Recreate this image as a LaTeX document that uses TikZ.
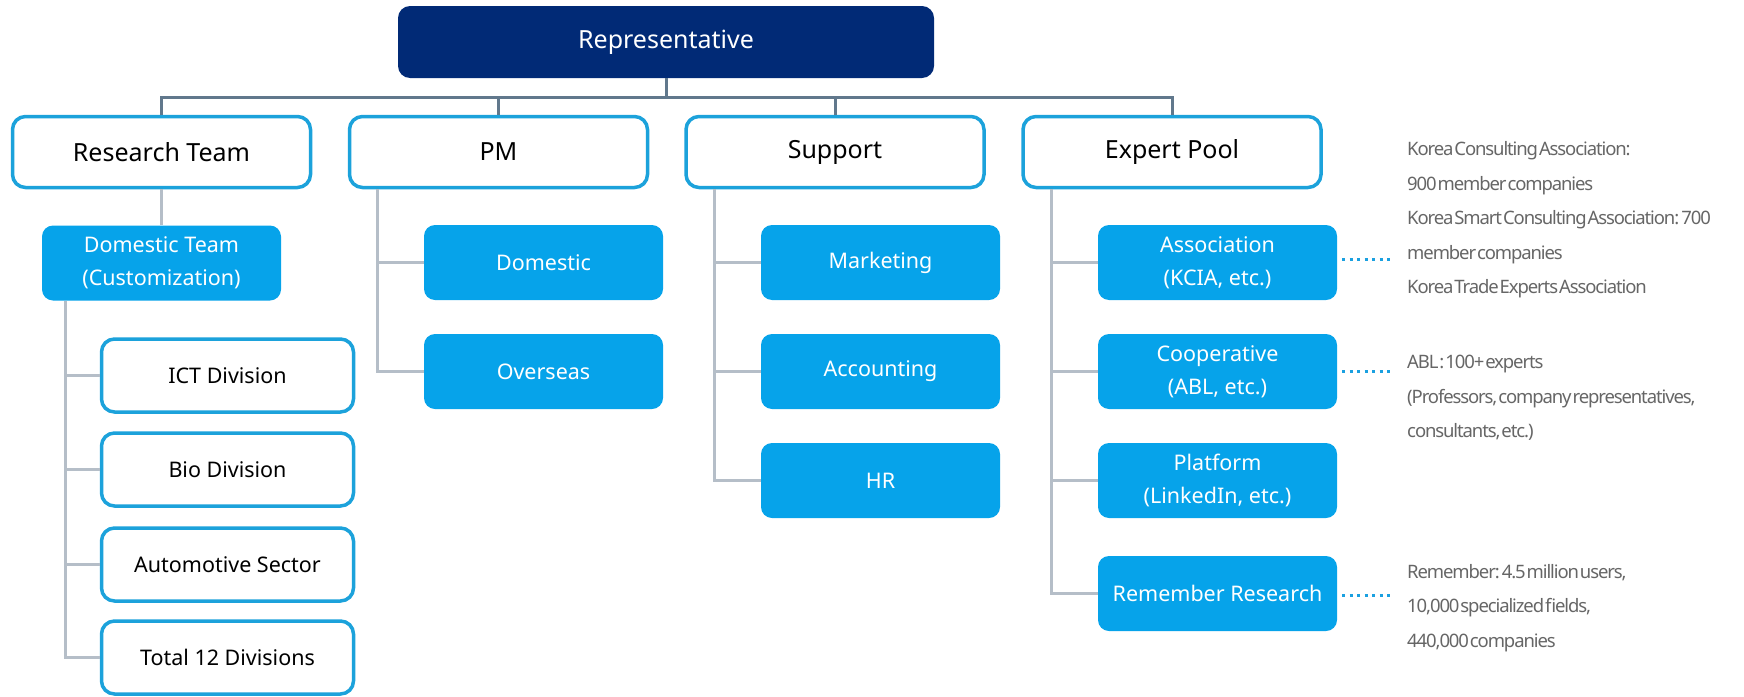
\documentclass[tikz,border=0pt]{standalone}
\usepackage{fontspec}
\setmainfont{Noto Sans}
\newfontfamily\notefont[LetterSpace=-6,WordSpace=0.25]{Noto Sans}
\usetikzlibrary{calc}
\definecolor{navy}{HTML}{012A76}
\definecolor{boxblue}{HTML}{06A3EA}
\definecolor{edgecyan}{HTML}{1CA2DB}
\definecolor{busgray}{HTML}{61788C}
\definecolor{treegray}{HTML}{B5BEC8}
\definecolor{notegray}{HTML}{666666}
\definecolor{dotblue}{HTML}{1AA0E0}
\tikzset{
  topbox/.style={rectangle, rounded corners=12pt, fill=navy, text=white, minimum width=536pt, minimum height=72pt, inner sep=0pt, font=\fontsize{25}{30}\selectfont},
  headbox/.style={rectangle, rounded corners=13pt, draw=edgecyan, line width=3.5pt, fill=white, text=black, minimum width=298pt, minimum height=71pt, inner sep=0pt, font=\fontsize{25}{30}\selectfont},
  subbox/.style={rectangle, rounded corners=11pt, fill=boxblue, text=white, minimum width=239pt, minimum height=75pt, inner sep=0pt, align=center, font=\fontsize{21.5}{33}\selectfont},
  divbox/.style={rectangle, rounded corners=13pt, draw=edgecyan, line width=3.5pt, fill=white, text=black, minimum width=252pt, minimum height=73pt, inner sep=0pt, font=\fontsize{21.5}{30}\selectfont},
  bus/.style={draw=busgray, line width=3pt},
  tree/.style={draw=treegray, line width=3pt},
  dots/.style={draw=dotblue, line width=3.5pt, dash pattern=on 3pt off 4.5pt},
  note/.style={anchor=west, align=left, inner sep=0pt, text=notegray, font=\notefont\fontsize{18.5}{34.5}\selectfont}
}
\begin{document}
\begin{tikzpicture}[x=1pt,y=-1pt]
\useasboundingbox (0,0) rectangle (1744,696);

% top
\node[topbox] (rep) at (666,42) {Representative};

% level 1
\node[headbox] (rt) at (161.5,152) {Research Team};
\node[headbox] (pm) at (498.5,152) {PM};
\node[headbox] (sup) at (835,152) {Support};
\node[headbox] (exp) at (1172,152) {Expert Pool};

% research team
\node[subbox] (dt) at (161.5,263) {Domestic Team\\(Customization)};
\node[divbox] (ict) at (227.5,375.5) {ICT Division};
\node[divbox] (bio) at (227.5,469.5) {Bio Division};
\node[divbox] (auto) at (227.5,564.5) {Automotive Sector};
\node[divbox] (tot) at (227.5,657.5) {Total 12 Divisions};

% PM
\node[subbox] (pmd) at (543.5,262.5) {Domestic};
\node[subbox] (pmo) at (543.5,371.5) {Overseas};

% Support
\node[subbox] (mk) at (880.5,262.5) {Marketing};
\node[subbox] (acc) at (880.5,371.5) {Accounting};
\node[subbox] (hr) at (880.5,480.5) {HR};

% Expert pool
\node[subbox] (asc) at (1217.5,262.5) {Association\\(KCIA, etc.)};
\node[subbox] (coop) at (1217.5,371.5) {Cooperative\\(ABL, etc.)};
\node[subbox] (plat) at (1217.5,480.5) {Platform\\(LinkedIn, etc.)};
\node[subbox] (rem) at (1217.5,593.5) {Remember Research};

% notes
\node[note] (n1) at (1407,220) {Korea Consulting Association:\\900 member companies\\Korea Smart Consulting Association: 700\\member companies\\Korea Trade Experts Association};
\node[note] (n2) at (1407,398) {ABL : 100+ experts\\(Professors, company representatives,\\consultants, etc.)};
\node[note] (n3) at (1407,608) {Remember: 4.5 million users,\\10,000 specialized fields,\\440,000 companies};

% bus
\coordinate (hub) at ($(rep.south)+(0,19)$);
\draw[bus] (rep.south) -- (hub);
\draw[bus] (hub) -| (rt.north);
\draw[bus] (hub) -| (pm.north);
\draw[bus] (hub) -| (sup.north);
\draw[bus] (hub) -| (exp.north);

% tree lines
\draw[tree] (rt.south) -- (dt.north);
\coordinate (rtx) at ($(dt.south west)+(24,0)$);
\foreach \n in {ict,bio,auto,tot} \draw[tree] (rtx) |- (\n.west);

\coordinate (pmx) at ($(pm.south west)+(30,0)$);
\foreach \n in {pmd,pmo} \draw[tree] (pmx) |- (\n.west);

\coordinate (supx) at ($(sup.south west)+(30,0)$);
\foreach \n in {mk,acc,hr} \draw[tree] (supx) |- (\n.west);

\coordinate (expx) at ($(exp.south west)+(30,0)$);
\foreach \n in {asc,coop,plat,rem} \draw[tree] (expx) |- (\n.west);

% dotted connectors
\coordinate (d1) at ($(asc.east)+(53,-3)$);
\coordinate (d2) at ($(coop.east)+(53,0)$);
\coordinate (d3) at ($(rem.east)+(53,2)$);
\draw[dots] ($(asc.east)+(5,-3)$) -- (d1);
\draw[dots] ($(coop.east)+(5,0)$) -- (d2);
\draw[dots] ($(rem.east)+(5,2)$) -- (d3);
\end{tikzpicture}
\end{document}
